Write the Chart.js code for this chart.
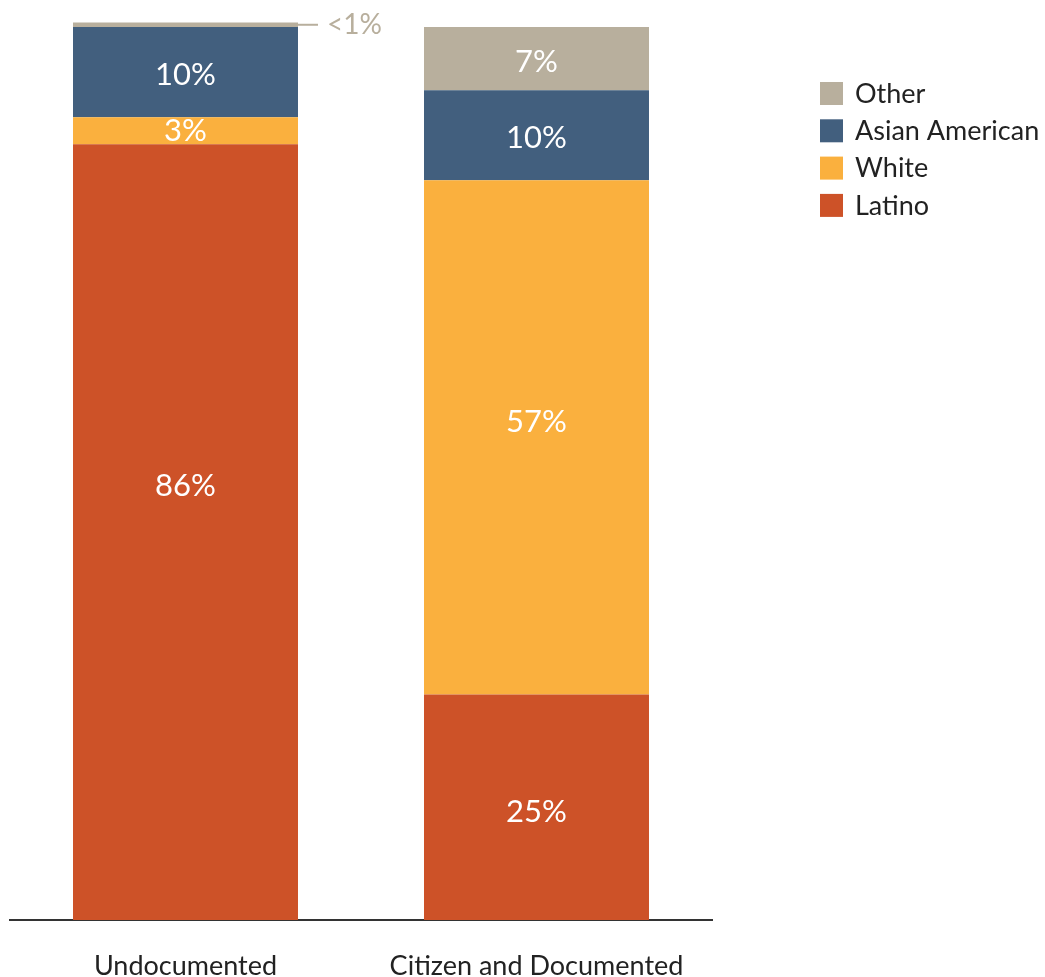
<!DOCTYPE html>
<html>
<head>
<meta charset="utf-8">
<script src="https://cdn.jsdelivr.net/npm/chart.js@4.4.1/dist/chart.umd.min.js"></script>
<style>
  html, body { margin: 0; padding: 0; background: #fff; }
  #wrap { width: 1045px; height: 977px; position: relative; }
</style>
</head>
<body>
<div id="wrap"><canvas id="raceChart"></canvas></div>
<script>
// chart data
const categories = ["Undocumented", "Citizen and Documented"];
const latino = [86, 25];
const white = [3, 57];
const asianAmerican = [10, 10];
const other = [0.5, 7];
const seriesNames = ["Latino", "White", "Asian American", "Other"];
const seriesColors = ["#CD5228", "#FAB03E", "#425F7E", "#B8AF9D"];

const FONT = "Lato, 'Open Sans', sans-serif";

const fmt = (v) => (v < 1 ? "<1%" : Math.round(v) + "%");

// the original labels are not all dead-centre; nudge them (px, per dataset/category)
const labelNudge = [[-46, 5], [0, -15], [3, 3], [0, 3]];

// white labels inside each segment, grey callout for the tiny one
const segmentLabels = {
    id: "segmentLabels",
    afterDatasetsDraw(chart) {
        const ctx = chart.ctx;
        ctx.save();
        chart.data.datasets.forEach((ds, di) => {
            const meta = chart.getDatasetMeta(di);
            meta.data.forEach((bar, i) => {
                const v = ds.data[i];
                const { x, y, base, width } = bar.getProps(["x", "y", "base", "width"], true);
                if (v < 1) {
                    const ly = (y + base) / 2;
                    const right = x + width / 2;
                    ctx.strokeStyle = ds.backgroundColor;
                    ctx.lineWidth = 2;
                    ctx.beginPath();
                    ctx.moveTo(right, ly);
                    ctx.lineTo(right + 20, ly);
                    ctx.stroke();
                    ctx.fillStyle = ds.backgroundColor;
                    ctx.font = "28px " + FONT;
                    ctx.textAlign = "left";
                    ctx.textBaseline = "middle";
                    ctx.fillText(fmt(v), right + 29, ly);
                    return;
                }
                ctx.fillStyle = "#ffffff";
                ctx.font = "31px " + FONT;
                ctx.textAlign = "center";
                ctx.textBaseline = "middle";
                ctx.fillText(fmt(v), x, (y + base) / 2 + labelNudge[di][i]);
            });
        });
        ctx.restore();
    }
};

// legend on the right, top item is the top segment
const sideLegend = {
    id: "sideLegend",
    afterDraw(chart) {
        const ctx = chart.ctx;
        ctx.save();
        const items = chart.data.datasets.map((ds) => ds).reverse();
        items.forEach((ds, k) => {
            const top = 82 + k * 37.3;
            ctx.fillStyle = ds.backgroundColor;
            ctx.fillRect(820, top, 23, 23);
            ctx.fillStyle = "#222222";
            ctx.font = "27px " + FONT;
            ctx.textAlign = "left";
            ctx.textBaseline = "middle";
            ctx.fillText(ds.label, 855, top + 12);
        });
        ctx.restore();
    }
};

const seriesData = [latino, white, asianAmerican, other];

new Chart(document.getElementById("raceChart"), {
    type: "bar",
    data: {
        labels: categories,
        datasets: seriesNames.map((name, i) => ({
            label: name,
            data: seriesData[i],
            backgroundColor: seriesColors[i],
            borderWidth: 0,
            categoryPercentage: 1,
            barPercentage: 0.641
        }))
    },
    options: {
        responsive: true,
        maintainAspectRatio: false,
        animation: false,
        layout: { padding: { left: 10, right: 333, top: 18, bottom: 0 } },
        plugins: {
            legend: { display: false },
            tooltip: { enabled: false }
        },
        scales: {
            x: {
                stacked: true,
                grid: { display: false, drawTicks: false },
                border: { display: true, color: "#333333", width: 2 },
                ticks: {
                    color: "#222222",
                    font: { family: FONT, size: 27 },
                    padding: 30,
                    maxRotation: 0
                },
                afterFit(scale) { scale.height = 57; }
            },
            y: {
                stacked: true,
                display: false,
                min: 0,
                max: 100
            }
        }
    },
    plugins: [segmentLabels, sideLegend]
});
</script>
</body>
</html>
